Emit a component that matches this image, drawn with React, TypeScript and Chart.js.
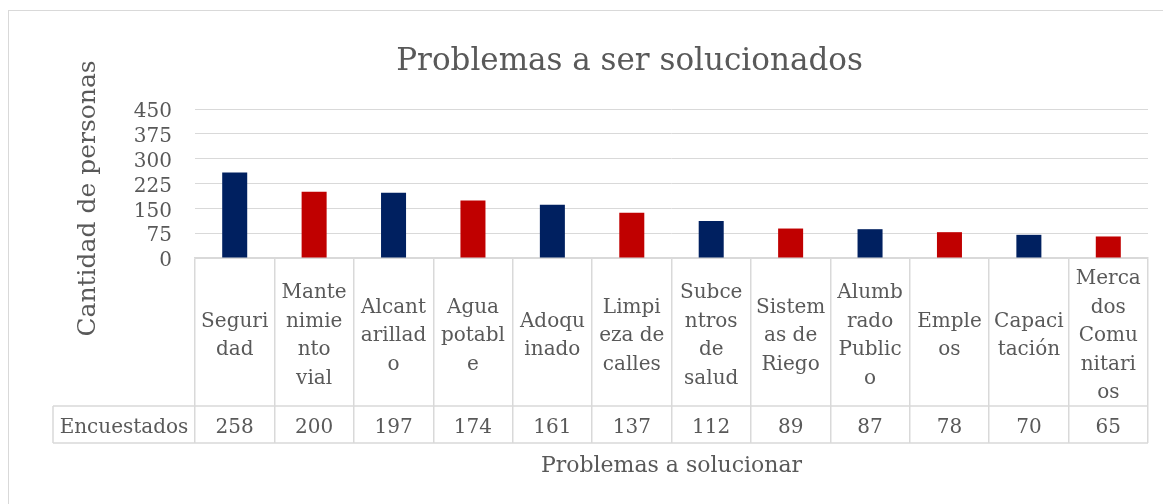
import React, { useEffect, useRef } from "react";
import { Chart, registerables } from "chart.js";

Chart.register(...registerables);

const chartTitle = "Problemas a ser solucionados";
const yAxisTitle = "Cantidad de personas";
const xAxisTitle = "Problemas a solucionar";
const seriesName = "Encuestados";

const categories = [
  "Seguridad",
  "Mantenimiento vial",
  "Alcantarillado",
  "Agua potable",
  "Adoquinado",
  "Limpieza de calles",
  "Subcentros de salud",
  "Sistemas de Riego",
  "Alumbrado Publico",
  "Empleos",
  "Capacitación",
  "Mercados Comunitarios",
];

const categoryLines = [
  ["Seguri", "dad"],
  ["Mante", "nimie", "nto", "vial"],
  ["Alcant", "arillad", "o"],
  ["Agua", "potabl", "e"],
  ["Adoqu", "inado"],
  ["Limpi", "eza de", "calles"],
  ["Subce", "ntros", "de", "salud"],
  ["Sistem", "as de", "Riego"],
  ["Alumb", "rado", "Public", "o"],
  ["Emple", "os"],
  ["Capaci", "tación"],
  ["Merca", "dos", "Comu", "nitari", "os"],
];

const values = [258, 200, 197, 174, 161, 137, 112, 89, 87, 78, 70, 65];

const barColors = [
  "#002060", "#C00000", "#002060", "#C00000", "#002060", "#C00000",
  "#002060", "#C00000", "#002060", "#C00000", "#002060", "#C00000",
];

const yMax = 450;
const yStep = 75;

const FONT = "'DejaVu Serif'";
const TEXT = "#595959";
const LINE = "#D9D9D9";

const tablePlugin = {
  id: "dataTable",
  afterDraw(chart: any) {
    const { ctx, chartArea, scales } = chart;
    const xs = scales.x;
    const top = chartArea.bottom;
    const splitY = top + 148;
    const bottomY = top + 185;
    const labelLeft = 53;
    ctx.save();
    ctx.strokeStyle = LINE;
    ctx.lineWidth = 1;
    ctx.strokeRect(8.5, 10.5, 3000, 3000);

    ctx.lineWidth = 1.5;
    ctx.beginPath();
    ctx.moveTo(labelLeft, splitY);
    ctx.lineTo(chartArea.right, splitY);
    ctx.moveTo(labelLeft, bottomY);
    ctx.lineTo(chartArea.right, bottomY);
    ctx.moveTo(labelLeft, splitY);
    ctx.lineTo(labelLeft, bottomY);
    ctx.stroke();

    ctx.fillStyle = TEXT;
    ctx.font = `20px ${FONT}`;
    ctx.textAlign = "center";
    ctx.textBaseline = "alphabetic";
    const mid = (top + splitY) / 2;
    const rowMid = (splitY + bottomY) / 2;
    categoryLines.forEach((lines, i) => {
      const cx = xs.getPixelForValue(i);
      const n = lines.length;
      lines.forEach((t, j) => {
        const cy = mid + (j - (n - 1) / 2) * 28.5;
        ctx.fillText(t, cx, cy + 9);
      });
      ctx.fillText(String(values[i]), cx, rowMid + 8.5);
    });
    ctx.fillText(seriesName, (labelLeft + chartArea.left) / 2, rowMid + 8.5);

    ctx.save();
    ctx.translate(95, 198.5);
    ctx.rotate(-Math.PI / 2);
    ctx.font = `25px ${FONT}`;
    ctx.fillText(yAxisTitle, 0, 0);
    ctx.restore();
    ctx.restore();
  },
};

export default function App() {
  const ref = useRef<HTMLCanvasElement | null>(null);
  useEffect(() => {
    if (!ref.current) return;
    const chart = new Chart(ref.current, {
      type: "bar",
      data: {
        labels: categories,
        datasets: [
          {
            label: seriesName,
            data: values,
            backgroundColor: barColors,
            borderWidth: 0,
            categoryPercentage: 1,
            barPercentage: 0.315,
          },
        ],
      },
      options: {
        animation: false,
        responsive: false,
        devicePixelRatio: 1,
        layout: {
          autoPadding: false,
          padding: { left: 111, right: 15, top: 10, bottom: 0 },
        },
        plugins: {
          legend: { display: false },
          tooltip: { enabled: false },
          title: {
            display: true,
            text: chartTitle,
            color: TEXT,
            font: { family: FONT, size: 31, weight: "normal", lineHeight: 1.2 },
            padding: { top: 33.2, bottom: 28.6 },
          },
        },
        scales: {
          x: {
            afterFit(scale: any) {
              scale.height = 246;
            },
            ticks: { display: false },
            grid: {
              display: true,
              offset: true,
              drawOnChartArea: false,
              drawTicks: true,
              tickLength: 185,
              color: LINE,
              lineWidth: 1.5,
            },
            border: { display: true, color: LINE, width: 1.5 },
            title: {
              display: true,
              text: xAxisTitle,
              color: TEXT,
              font: { family: FONT, size: 22, lineHeight: 1.2 },
              padding: { top: 0, bottom: 24.3 },
            },
          },
          y: {
            min: 0,
            max: yMax,
            afterFit(scale: any) {
              scale.width = 84;
            },
            ticks: {
              stepSize: yStep,
              autoSkip: false,
              color: TEXT,
              padding: 23,
              labelOffset: 3,
              font: { family: FONT, size: 20 },
            },
            grid: { color: LINE, lineWidth: 1, drawTicks: false },
            border: { display: false },
          },
        },
      },
      plugins: [tablePlugin],
    });
    return () => chart.destroy();
  }, []);
  return (
    <div style={{ position: "absolute", left: 0, top: 0, width: 1163, height: 504, background: "#fff" }}>
      <canvas ref={ref} width={1163} height={504} style={{ display: "block", width: 1163, height: 504 }} />
    </div>
  );
}
